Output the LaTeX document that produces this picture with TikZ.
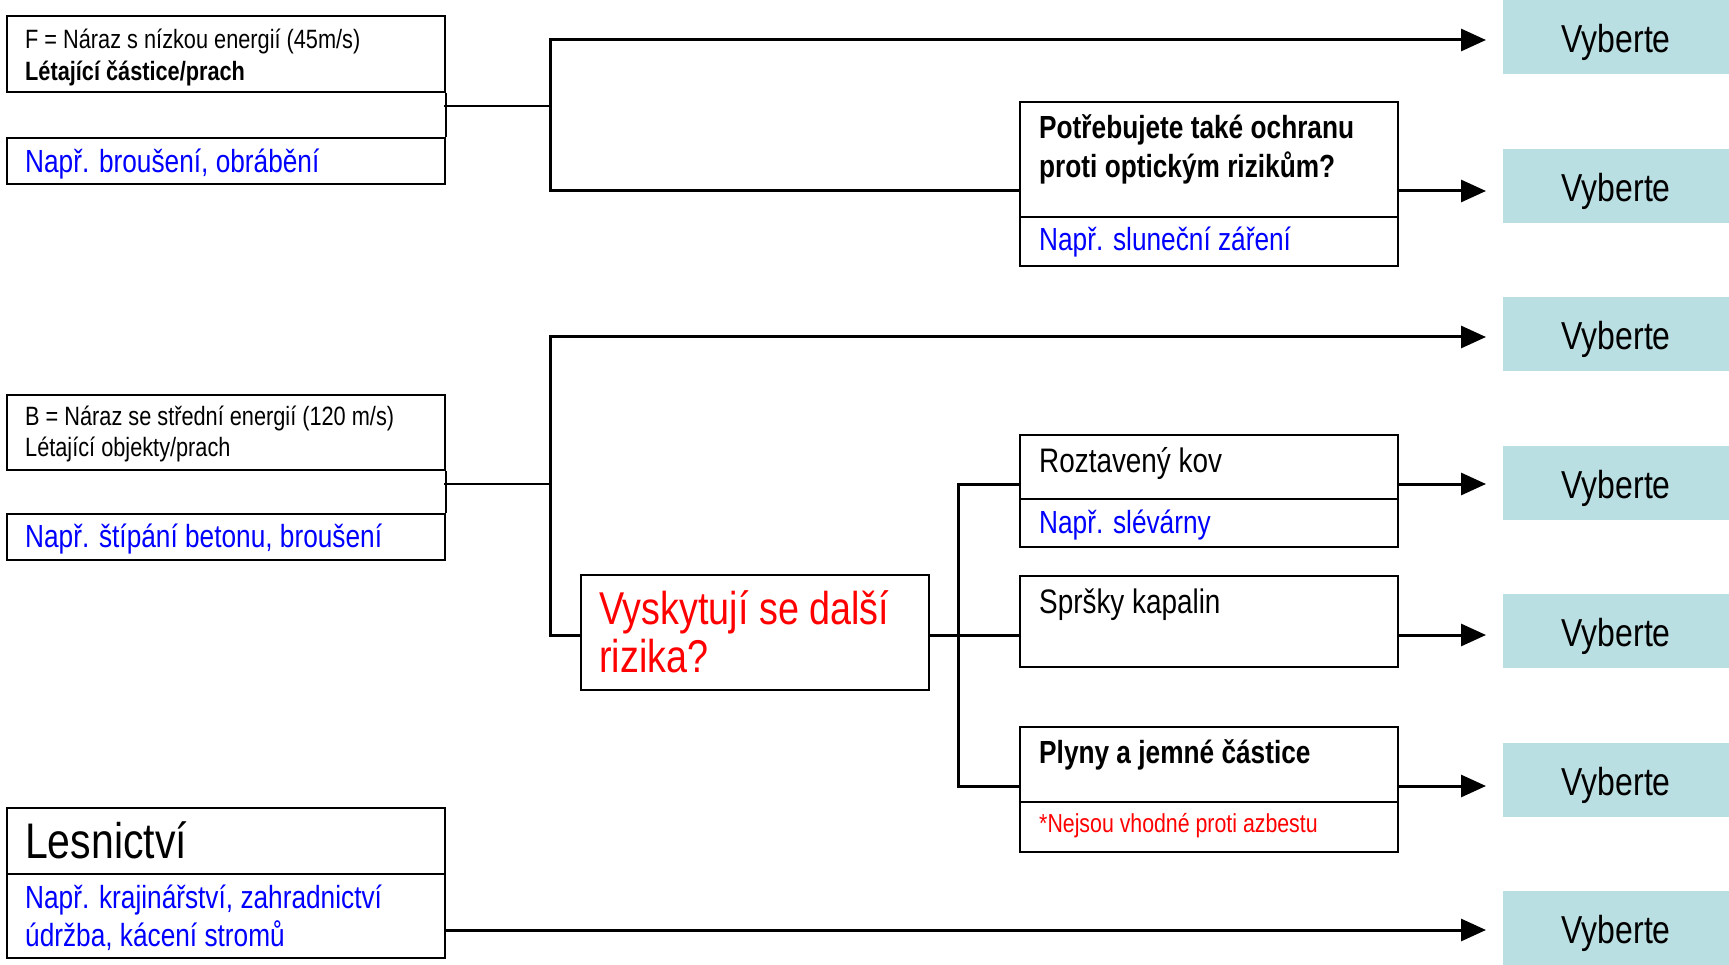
\documentclass[tikz,border=0pt]{standalone}
\usepackage{fontspec}
\setmainfont{Liberation Sans}[FakeStretch=0.82]
\usetikzlibrary{arrows.meta}
\definecolor{vybfill}{RGB}{186,223,226}
\definecolor{exblue}{RGB}{0,0,255}
\definecolor{riskred}{RGB}{255,0,0}

\tikzset{
  box/.style={draw=black, line width=2pt, inner sep=0pt, anchor=north west},
  txt/.style={inner sep=0pt, anchor=base west, align=left},
  vyb/.style={fill=vybfill, inner sep=0pt, anchor=north west,
    minimum width=226pt, minimum height=74pt, text height=39pt, text depth=8pt,
    font=\fontsize{39}{44}\selectfont},
  link/.style={line width=3pt},
  thinlink/.style={line width=1.5pt},
  arr/.style={line width=3pt, -{Triangle[length=25pt,width=22pt]}, shorten >=17pt},
}

\begin{document}
\begin{tikzpicture}[x=1pt,y=-1pt]
\useasboundingbox (0,0) rectangle (1729,965);

% boxes on the left
\node[box, minimum width=438pt, minimum height=76pt] (fhead) at (6,15) {};
\node[box, minimum width=438pt, minimum height=46pt] (fex) at (6,137) {};
\node[box, minimum width=438pt, minimum height=75pt] (bhead) at (6,394) {};
\node[box, minimum width=438pt, minimum height=46pt] (bex) at (6,513) {};
\node[box, minimum width=438pt, minimum height=66pt] (lhead) at (6,807) {};
\node[box, minimum width=438pt, minimum height=84pt] (lex) at (6,873) {};

% middle boxes
\node[box, minimum width=378pt, minimum height=115pt] (opt) at (1019,101) {};
\node[box, minimum width=378pt, minimum height=49pt] (optex) at (1019,216) {};
\node[box, minimum width=348pt, minimum height=115pt] (risk) at (580,574) {};
\node[box, minimum width=378pt, minimum height=64pt] (melt) at (1019,434) {};
\node[box, minimum width=378pt, minimum height=48pt] (meltex) at (1019,498) {};
\node[box, minimum width=378pt, minimum height=91pt] (spray) at (1019,575) {};
\node[box, minimum width=378pt, minimum height=75pt] (gas) at (1019,726) {};
\node[box, minimum width=378pt, minimum height=50pt] (gasex) at (1019,801) {};

% Vyberte buttons
\foreach \i in {1,...,7}
  \node[vyb] (v\i) at (1503,{148.5*(\i-1)}) {Vyberte};

% texts (multi-line texts sit on their last baseline)
\node[txt, font=\fontsize{26.5}{32}\selectfont] (ftxt) at (25,80.5)
  {F = Náraz s nízkou energií (45m/s)\\\textbf{Létající částice/prach}};
\node[txt, text=exblue, font=\fontsize{32}{38}\selectfont] (fextxt) at (25,173) {Např. broušení, obrábění};
\node[txt, font=\fontsize{26.5}{31}\selectfont] (btxt) at (25,456.5)
  {B = Náraz se střední energií (120 m/s)\\Létající objekty/prach};
\node[txt, text=exblue, font=\fontsize{32}{38}\selectfont] (bextxt) at (25,547) {Např. štípání betonu, broušení};
\node[txt, font=\fontsize{50}{54}\selectfont] (ltxt) at (25,858) {Lesnictví};
\node[txt, text=exblue, font=\fontsize{32}{37.5}\selectfont] (lextxt) at (25,946)
  {Např. krajinářství, zahradnictví\\údržba, kácení stromů};
\node[txt, font=\bfseries\fontsize{32}{38.5}\selectfont] (opttxt) at (1039,177.5)
  {Potřebujete také ochranu\\proti optickým rizikům?};
\node[txt, text=exblue, font=\fontsize{32}{38}\selectfont] (optextxt) at (1039,251) {Např. sluneční záření};
\node[txt, text=riskred, font=\fontsize{46}{48.5}\selectfont] (risktxt) at (599,672.6)
  {Vyskytují se další\\rizika?};
\node[txt, font=\fontsize{34}{38}\selectfont] (melttxt) at (1039,472) {Roztavený kov};
\node[txt, text=exblue, font=\fontsize{32}{38}\selectfont] (meltextxt) at (1039,533.7) {Např. slévárny};
\node[txt, font=\fontsize{34}{38}\selectfont] (spraytxt) at (1039,613) {Spršky kapalin};
\node[txt, font=\bfseries\fontsize{32}{38}\selectfont] (gastxt) at (1039,763) {Plyny a jemné částice};
\node[txt, text=riskred, font=\fontsize{26}{30}\selectfont] (gasextxt) at (1039,832.5) {*Nejsou vhodné proti azbestu};

% junction points
\coordinate (fj) at (444,106);
\coordinate (br1t) at (550,40);
\coordinate (br1b) at (550,191);
\coordinate (bj) at (444,484);
\coordinate (br2t) at (550,337);
\coordinate (br2b) at (550,635);
\coordinate (sjt) at (958,484);
\coordinate (sj) at (958,635);
\coordinate (sjb) at (958,786);
\coordinate (lj) at (444,930);

% first group
\draw[thinlink] (fhead.south east) -- (fex.north east);
\draw[thinlink] (fj) -- (fj -| br1t);
\draw[arr] (br1b -| opt.west) -- (br1b) -- (br1t) -- (br1t -| v1.west);
\draw[arr] (br1b -| opt.east) -- (br1b -| v2.west);

% second group
\draw[thinlink] (bhead.south east) -- (bex.north east);
\draw[thinlink] (bj) -- (bj -| br2t);
\draw[arr] (br2b -| risk.west) -- (br2b) -- (br2t) -- (br2t -| v3.west);
\draw[link] (sj -| risk.east) -- (sj -| spray.west);
\draw[link] (sjt -| melt.west) -- (sjt) -- (sjb) -- (sjb -| gas.west);
\draw[arr] (sjt -| melt.east) -- (sjt -| v4.west);
\draw[arr] (sj -| spray.east) -- (sj -| v5.west);
\draw[arr] (sjb -| gas.east) -- (sjb -| v6.west);

% forestry
\draw[arr] (lj) -- (lj -| v7.west);
\end{tikzpicture}
\end{document}
